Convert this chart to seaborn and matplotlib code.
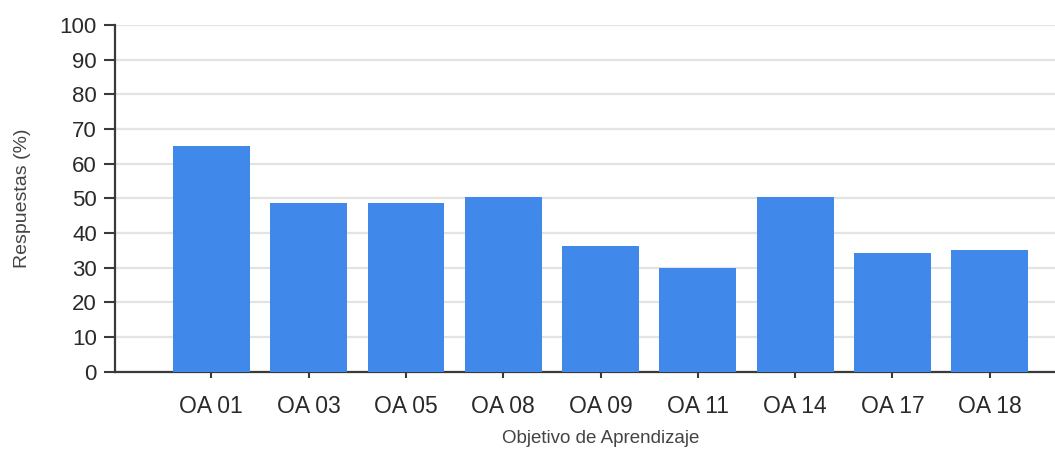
import matplotlib
matplotlib.use("Agg")
import matplotlib.pyplot as plt
import seaborn as sns

# Datos del grafico
objetivos = ["OA 01", "OA 03", "OA 05", "OA 08", "OA 09", "OA 11", "OA 14", "OA 17", "OA 18"]
respuestas = [65, 48.8, 48.8, 50.5, 36.3, 29.8, 50.5, 34.1, 35.2]
y_ticks = list(range(0, 101, 10))

sns.set_style("white")
plt.rcParams["font.family"] = ["Liberation Sans", "DejaVu Sans"]

fig = plt.figure(figsize=(10.55, 4.53), dpi=100)
ax = fig.add_axes([0.109, 0.1795, 0.891, 0.7653])

sns.barplot(x=objetivos, y=respuestas, color="#4089eb", saturation=1,
            width=0.79, linewidth=0, ax=ax, zorder=3)

ax.set_ylim(0, 100)
ax.set_xlim(-0.99, 8.67)
ax.set_yticks(y_ticks)
ax.yaxis.grid(True, color="#e3e3e3", linewidth=1.6, zorder=0)
ax.set_axisbelow(True)

for s in ["top", "right"]:
    ax.spines[s].set_visible(False)
for s in ["left", "bottom"]:
    ax.spines[s].set_color("#3a3a3a")
    ax.spines[s].set_linewidth(1.6)

ax.tick_params(axis="y", length=8, width=1.5, color="#3a3a3a", pad=5,
               labelsize=16, labelcolor="#2a2a2a", left=True)
ax.tick_params(axis="x", length=4, width=1.5, color="#3a3a3a", pad=13,
               labelsize=16.5, labelcolor="#2a2a2a", bottom=True)

ax.set_ylabel("Respuestas (%)", fontsize=14, color="#444444")
ax.set_xlabel("Objetivo de Aprendizaje", fontsize=13.5, color="#444444")
ax.yaxis.set_label_coords(-0.089, 0.5)
ax.xaxis.set_label_coords(0.517, -0.168)

fig.savefig("out.png", dpi=100)
